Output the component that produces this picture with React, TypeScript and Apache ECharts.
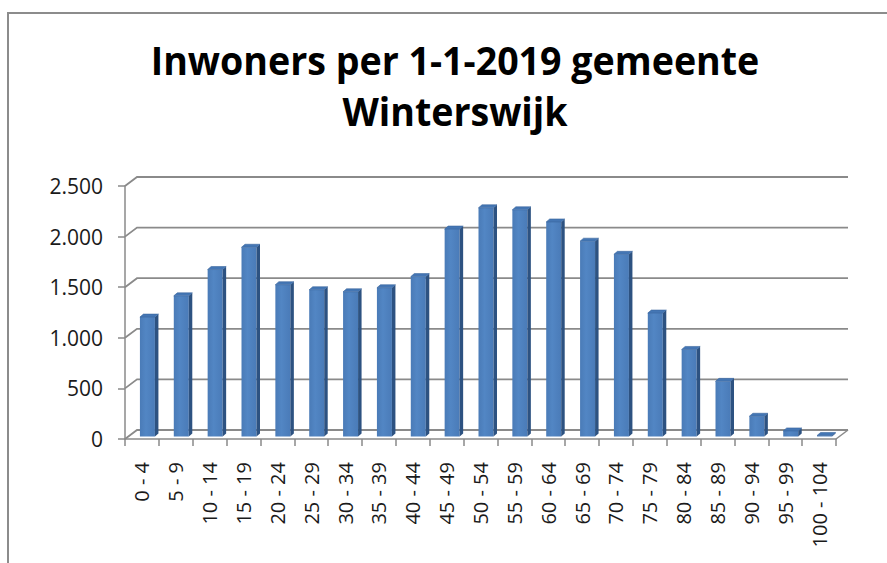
import React, { useEffect, useRef } from "react";
import * as echarts from "echarts";

const titleLines = ["Inwoners per 1-1-2019 gemeente", "Winterswijk"];
const ageGroups = [
  "0 - 4", "5 - 9", "10 - 14", "15 - 19", "20 - 24", "25 - 29", "30 - 34",
  "35 - 39", "40 - 44", "45 - 49", "50 - 54", "55 - 59", "60 - 64", "65 - 69",
  "70 - 74", "75 - 79", "80 - 84", "85 - 89", "90 - 94", "95 - 99", "100 - 104",
];
const inwoners = [
  1180, 1390, 1650, 1870, 1500, 1450, 1430, 1470, 1580, 2050, 2260, 2240,
  2120, 1930, 1800, 1220, 860, 545, 200, 55, 10,
];
const yTicks = [0, 500, 1000, 1500, 2000, 2500];

const FONT = "'Open Sans', 'DejaVu Sans', sans-serif";
const GRID_COLOR = "#8a8a8a";
const DEPTH_X = 12;
const DEPTH_Y = -9;

const fmt = (v: number) => String(v).replace(/\B(?=(\d{3})+(?!\d))/g, ".");

export default function App() {
  const ref = useRef<HTMLDivElement>(null);
  useEffect(() => {
    if (!ref.current) return;
    const chart = echarts.init(ref.current, null, { renderer: "svg" });
    const option: any = {
      animation: false,
      backgroundColor: "#ffffff",
      graphic: [
        {
          type: "rect",
          z: 0,
          shape: { x: 8, y: 13, width: 900, height: 600 },
          style: { fill: "none", stroke: "#8c8c8c", lineWidth: 2 },
        },
        {
          type: "text",
          x: 455,
          y: 60,
          scaleX: 0.94,
          style: {
            text: titleLines[0],
            font: `bold 40px ${FONT}`,
            fill: "#000",
            textAlign: "center",
            textVerticalAlign: "middle",
          },
        },
        {
          type: "text",
          x: 455,
          y: 111,
          scaleX: 0.94,
          style: {
            text: titleLines[1],
            font: `bold 40px ${FONT}`,
            fill: "#000",
            textAlign: "center",
            textVerticalAlign: "middle",
          },
        },
      ],
      grid: { left: 125, right: 51, top: 186, bottom: 124, containLabel: false },
      xAxis: {
        type: "category",
        data: ageGroups,
        boundaryGap: true,
        axisLine: { show: true, lineStyle: { color: GRID_COLOR, width: 1.5 } },
        axisTick: { show: true, length: 7, interval: 0, lineStyle: { color: GRID_COLOR, width: 1.5 } },
        axisLabel: {
          interval: 0,
          rotate: 90,
          margin: 23,
          fontFamily: FONT,
          fontSize: 20,
          color: "#1a1a1a",
        },
        splitLine: { show: false },
      },
      yAxis: {
        type: "value",
        min: 0,
        max: 2500,
        interval: 500,
        axisLine: { show: true, lineStyle: { color: GRID_COLOR, width: 1.5 } },
        axisTick: { show: true, length: 7, lineStyle: { color: GRID_COLOR, width: 1.5 } },
        axisLabel: {
          margin: 22,
          fontFamily: FONT,
          fontSize: 21,
          color: "#1a1a1a",
          formatter: (v: number) => fmt(v),
        },
        splitLine: { show: false },
      },
      series: [
        {
          type: "custom",
          name: "frame",
          z: 1,
          silent: true,
          data: yTicks.map((v) => [0, v]),
          encode: { x: 0, y: 1 },
          renderItem: (params: any, api: any) => {
            const cs = params.coordSys;
            const v = api.value(1);
            const y = api.coord([0, v])[1];
            const x0 = cs.x;
            const x1 = cs.x + cs.width;
            const children: any[] = [
              {
                type: "polyline",
                shape: {
                  points: [
                    [x0, y],
                    [x0 + DEPTH_X, y + DEPTH_Y],
                    [x1 + DEPTH_X, y + DEPTH_Y],
                  ],
                },
                style: { stroke: GRID_COLOR, lineWidth: 1.8, fill: "none" },
              },
            ];
            if (v === 0) {
              children.push({
                type: "line",
                shape: { x1: x1, y1: y, x2: x1 + DEPTH_X, y2: y + DEPTH_Y },
                style: { stroke: GRID_COLOR, lineWidth: 1.5 },
              });
            }
            return { type: "group", children };
          },
        },
        {
          type: "custom",
          name: "Inwoners",
          z: 3,
          data: inwoners.map((v, i) => [i, v]),
          encode: { x: 0, y: 1 },
          renderItem: (params: any, api: any) => {
            const idx = api.value(0);
            const val = api.value(1);
            const base = api.coord([idx, 0]);
            const top = api.coord([idx, val]);
            const cx = base[0] + 5.5;
            const by = base[1] - 2.5;
            const ty = top[1] - 2.5;
            const hw = 7.5;
            const dx = 3.5;
            const dy = -3;
            return {
              type: "group",
              children: [
                {
                  type: "rect",
                  shape: { x: cx - hw, y: ty, width: hw * 2, height: Math.max(by - ty, 0.5) },
                  style: {
                    fill: new echarts.graphic.LinearGradient(0, 0, 1, 0, [
                      { offset: 0, color: "#4a7bb7" },
                      { offset: 0.4, color: "#5286c4" },
                      { offset: 1, color: "#4a7bb8" },
                    ]),
                  },
                },
                {
                  type: "polygon",
                  shape: {
                    points: [
                      [cx + hw, ty],
                      [cx + hw + dx, ty + dy],
                      [cx + hw + dx, by + dy],
                      [cx + hw, by],
                    ],
                  },
                  style: { fill: "#2d5281" },
                },
                {
                  type: "polygon",
                  shape: {
                    points: [
                      [cx - hw, ty],
                      [cx - hw + dx, ty + dy],
                      [cx + hw + dx, ty + dy],
                      [cx + hw, ty],
                    ],
                  },
                  style: { fill: "#4476b4", stroke: "#3a669e", lineWidth: 0.6 },
                },
              ],
            };
          },
        },
      ],
    };
    chart.setOption(option);
    return () => chart.dispose();
  }, []);
  return (
    <div
      ref={ref}
      style={{ position: "absolute", left: 0, top: 0, width: 887, height: 563 }}
    />
  );
}
